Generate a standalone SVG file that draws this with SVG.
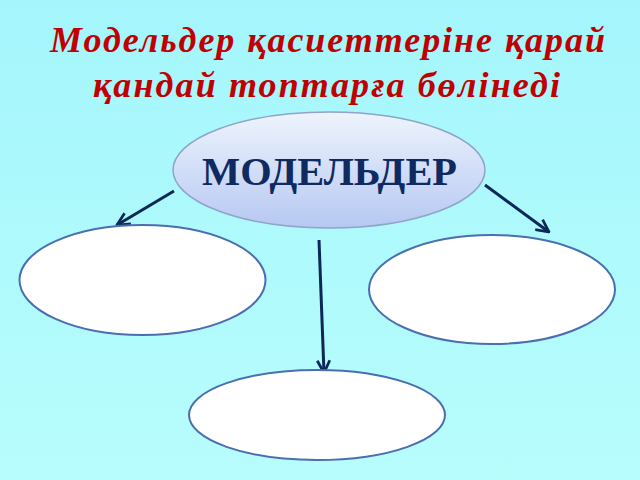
<svg xmlns="http://www.w3.org/2000/svg" width="640" height="480" viewBox="0 0 640 480">
<defs>
<linearGradient id="bg" x1="0" y1="0" x2="0" y2="1">
<stop offset="0" stop-color="#a4f6fc"/>
<stop offset="1" stop-color="#b8fdfc"/>
</linearGradient>
<linearGradient id="top" x1="0" y1="0" x2="0" y2="1">
<stop offset="0" stop-color="#eef4fd"/>
<stop offset="1" stop-color="#b6c8f2"/>
</linearGradient>
<marker id="arr" viewBox="0 0 12 12" refX="11" refY="6" markerWidth="5" markerHeight="5" orient="auto" markerUnits="strokeWidth">
<path d="M1,1 L11,6 L1,11" fill="none" stroke="#0d2858" stroke-width="2.2"/>
</marker>
<style>
.title{font-family:"Liberation Serif","Times New Roman",serif;font-weight:bold;font-style:italic;font-size:36px;fill:#c00000}
.node{fill:#ffffff;stroke:#4a6eb0;stroke-width:2}
.conn{stroke:#0d2858;stroke-width:3;fill:none;marker-end:url(#arr)}
.main{font-family:"Liberation Serif","Times New Roman",serif;font-weight:bold;font-size:39px;fill:#0f2a60}
</style>
</defs>
<rect width="640" height="480" fill="url(#bg)"/>
<text class="title" x="50" y="52" textLength="555" lengthAdjust="spacing">Модельдер қасиеттеріне қарай</text>
<text class="title" x="93" y="97" textLength="467" lengthAdjust="spacing">қандай топтарға бөлінеді</text>
<g id="connectors">
<line class="conn" x1="174" y1="191" x2="117" y2="225"/>
<line class="conn" x1="485" y1="185" x2="549" y2="232"/>
<line class="conn" x1="319" y1="240" x2="324" y2="373"/>
</g>
<g id="node-models">
<ellipse cx="329" cy="170" rx="156" ry="58" fill="url(#top)" stroke="#8ea4c8" stroke-width="1.5"/>
<text class="main" x="202" y="185" textLength="255" lengthAdjust="spacingAndGlyphs">МОДЕЛЬДЕР</text>
</g>
<g id="node-left">
<ellipse class="node" cx="142.5" cy="280" rx="123" ry="55"/>
</g>
<g id="node-right">
<ellipse class="node" cx="492" cy="289.5" rx="123" ry="54.5"/>
</g>
<g id="node-bottom">
<ellipse class="node" cx="317" cy="415" rx="128" ry="45"/>
</g>
</svg>
